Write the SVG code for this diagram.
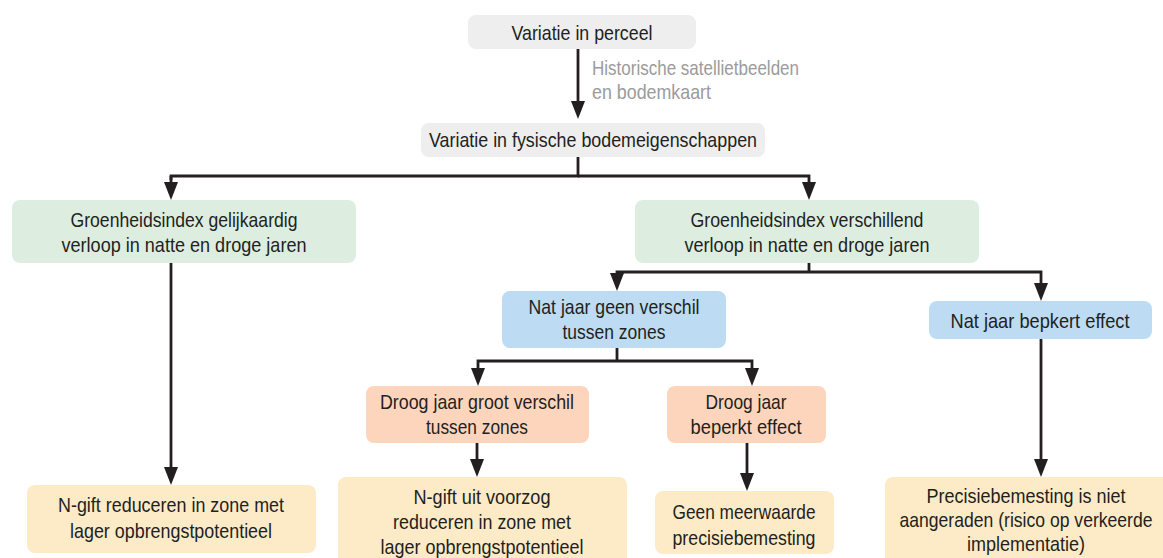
<svg xmlns="http://www.w3.org/2000/svg" width="1163" height="558" viewBox="0 0 1163 558">
<defs>
<style>
.t{font-family:"Liberation Sans",Arial,sans-serif;font-size:21px;fill:#231f20;text-anchor:middle}
.lbl{font-family:"Liberation Sans",Arial,sans-serif;font-size:21px;fill:#9b9b9b}
.gray{fill:#eeeeef}
.green{fill:#ddeee1}
.blue{fill:#bddcf3}
.orange{fill:#fdd5bd}
.yellow{fill:#fdebc8}
.c{fill:none;stroke:#231f20;stroke-width:2.8;marker-end:url(#ah)}
.c0{fill:none;stroke:#231f20;stroke-width:2.8}
</style>
<marker id="ah" viewBox="0 0 18 14" refX="8" refY="7" markerWidth="18" markerHeight="14" markerUnits="userSpaceOnUse" orient="auto">
<path d="M0,0 L18,7 L0,14 z" fill="#231f20"/>
</marker>
</defs>
<rect width="1163" height="558" fill="#ffffff"/>

<g id="connectors">
<path class="c" d="M578,49 V109"/>
<path class="c0" d="M578,157 V176 H171 V180"/>
<path class="c" d="M171,176 V190"/>
<path class="c" d="M578,176 H809 V190"/>
<path class="c0" d="M809,263 V272"/>
<path class="c" d="M809,272 H617 V281"/>
<path class="c" d="M809,272 H1041 V291"/>
<path class="c" d="M171,263 V475"/>
<path class="c0" d="M617,348 V361"/>
<path class="c" d="M617,361 H478 V376"/>
<path class="c" d="M617,361 H752 V376"/>
<path class="c" d="M477,443 V467"/>
<path class="c" d="M747,443 V481"/>
<path class="c" d="M1041,339 V467"/>
</g>

<g id="label-historisch">
<text class="lbl" x="592" y="75" textLength="207" lengthAdjust="spacingAndGlyphs">Historische satellietbeelden</text>
<text class="lbl" x="592" y="99" textLength="119" lengthAdjust="spacingAndGlyphs">en bodemkaart</text>
</g>

<g id="n-perceel">
<rect class="gray" x="468" y="15" width="228" height="34" rx="8"/>
<text class="t" x="582" y="40" textLength="141" lengthAdjust="spacingAndGlyphs">Variatie in perceel</text>
</g>

<g id="n-bodem">
<rect class="gray" x="421" y="123" width="344" height="34" rx="8"/>
<text class="t" x="593" y="147" textLength="328" lengthAdjust="spacingAndGlyphs">Variatie in fysische bodemeigenschappen</text>
</g>

<g id="n-gelijk">
<rect class="green" x="12" y="200" width="344" height="63" rx="8"/>
<text class="t" x="184" y="227" textLength="227" lengthAdjust="spacingAndGlyphs">Groenheidsindex gelijkaardig</text>
<text class="t" x="184" y="252" textLength="245" lengthAdjust="spacingAndGlyphs">verloop in natte en droge jaren</text>
</g>

<g id="n-verschil">
<rect class="green" x="635" y="200" width="344" height="63" rx="8"/>
<text class="t" x="807" y="227" textLength="233" lengthAdjust="spacingAndGlyphs">Groenheidsindex verschillend</text>
<text class="t" x="807" y="252" textLength="245" lengthAdjust="spacingAndGlyphs">verloop in natte en droge jaren</text>
</g>

<g id="n-nat-geen">
<rect class="blue" x="502" y="291" width="224" height="57" rx="8"/>
<text class="t" x="614" y="314" textLength="171" lengthAdjust="spacingAndGlyphs">Nat jaar geen verschil</text>
<text class="t" x="614" y="339" textLength="103" lengthAdjust="spacingAndGlyphs">tussen zones</text>
</g>

<g id="n-nat-beperkt">
<rect class="blue" x="929" y="301" width="223" height="38" rx="8"/>
<text class="t" x="1040" y="328" textLength="179" lengthAdjust="spacingAndGlyphs">Nat jaar bepkert effect</text>
</g>

<g id="n-droog-groot">
<rect class="orange" x="366" y="386" width="223" height="57" rx="8"/>
<text class="t" x="477" y="409" textLength="194" lengthAdjust="spacingAndGlyphs">Droog jaar groot verschil</text>
<text class="t" x="477" y="434" textLength="102" lengthAdjust="spacingAndGlyphs">tussen zones</text>
</g>

<g id="n-droog-beperkt">
<rect class="orange" x="667" y="386" width="159" height="57" rx="8"/>
<text class="t" x="746" y="409" textLength="81" lengthAdjust="spacingAndGlyphs">Droog jaar</text>
<text class="t" x="746" y="434" textLength="111" lengthAdjust="spacingAndGlyphs">beperkt effect</text>
</g>

<g id="n-ngift-reduceren">
<rect class="yellow" x="27" y="485" width="289" height="68" rx="8"/>
<text class="t" x="171" y="512" textLength="226" lengthAdjust="spacingAndGlyphs">N-gift reduceren in zone met</text>
<text class="t" x="171" y="538" textLength="202" lengthAdjust="spacingAndGlyphs">lager opbrengstpotentieel</text>
</g>

<g id="n-ngift-voorzog">
<rect class="yellow" x="338" y="477" width="289" height="95" rx="8"/>
<text class="t" x="482" y="504" textLength="137" lengthAdjust="spacingAndGlyphs">N-gift uit voorzog</text>
<text class="t" x="482" y="529" textLength="178" lengthAdjust="spacingAndGlyphs">reduceren in zone met</text>
<text class="t" x="482" y="554" textLength="203" lengthAdjust="spacingAndGlyphs">lager opbrengstpotentieel</text>
</g>

<g id="n-geen-meerwaarde">
<rect class="yellow" x="655" y="491" width="179" height="63" rx="8"/>
<text class="t" x="744" y="519" textLength="143" lengthAdjust="spacingAndGlyphs">Geen meerwaarde</text>
<text class="t" x="744" y="545" textLength="143" lengthAdjust="spacingAndGlyphs">precisiebemesting</text>
</g>

<g id="n-niet-aangeraden">
<rect class="yellow" x="885" y="477" width="287" height="95" rx="8"/>
<text class="t" x="1026" y="503" textLength="199" lengthAdjust="spacingAndGlyphs">Precisiebemesting is niet</text>
<text class="t" x="1026" y="527" textLength="253" lengthAdjust="spacingAndGlyphs">aangeraden (risico op verkeerde</text>
<text class="t" x="1026" y="551" textLength="118" lengthAdjust="spacingAndGlyphs">implementatie)</text>
</g>
</svg>
